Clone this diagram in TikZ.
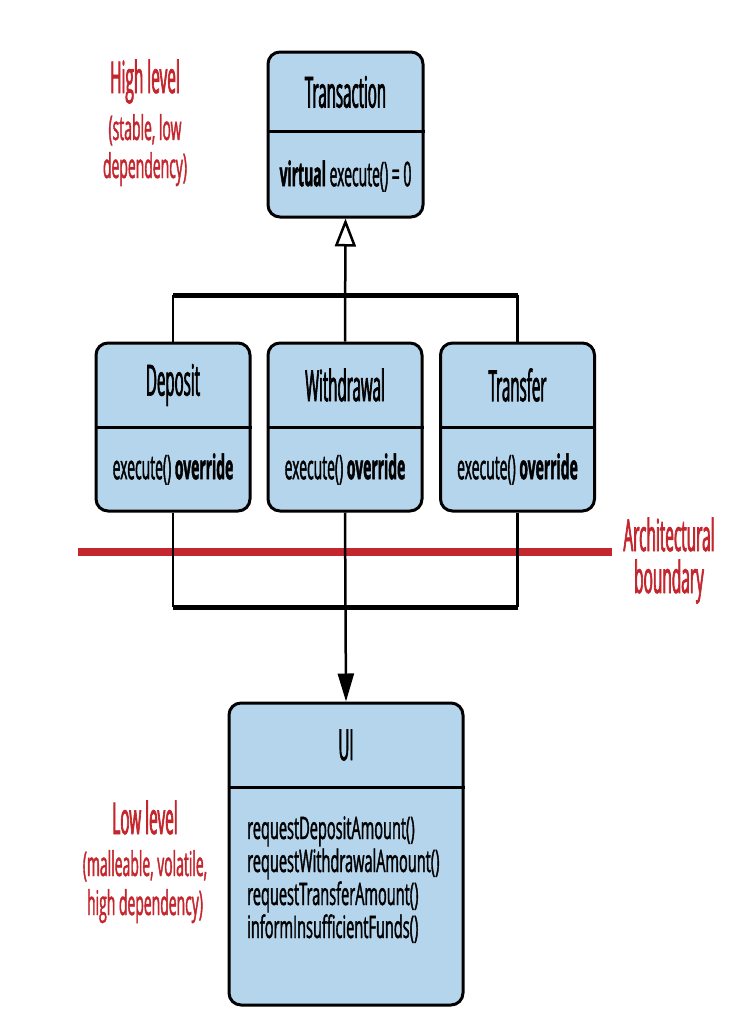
\documentclass[tikz,border=0pt]{standalone}
\usepackage{fontspec}
\setmainfont{Open Sans}
\newfontfamily\tfont[FakeStretch=0.35, FakeBold=1.5]{Open Sans}
\newfontfamily\bfont[FakeStretch=0.41, FakeBold=1.2]{Open Sans}
\newfontfamily\ufont[FakeStretch=0.47, FakeBold=1.2]{Open Sans}
\usetikzlibrary{arrows.meta}
\definecolor{boxblue}{HTML}{B4D5EC}
\definecolor{archred}{HTML}{C4262E}
\begin{document}
\begin{tikzpicture}[x=1pt,y=-1pt,
  cls/.style={draw=black, line width=3pt, fill=boxblue, rounded corners=12pt, inner sep=0pt},
  ttl/.style={font=\tfont\fontsize{43}{46}\selectfont, inner sep=0pt},
  mth/.style={font=\bfont\fontsize{34}{36}\selectfont, inner sep=0pt},
  uim/.style={font=\ufont\fontsize{31}{33}\selectfont, inner sep=0pt, anchor=base west},
  redh/.style={text=archred, font=\tfont\fontsize{44}{46}\selectfont, inner sep=0pt, anchor=base},
  reds/.style={text=archred, font=\bfont\fontsize{34}{36}\selectfont, inner sep=0pt, anchor=base},
  conn/.style={line width=2.5pt},
  barline/.style={line width=5pt},
  divl/.style={line width=3pt},
  boundary/.style={line width=8pt, draw=archred}]
\useasboundingbox (0,0) rectangle (754,1036);

% Transaction
\node[cls, minimum width=155pt, minimum height=165pt] (trans) at (345.5,134.5) {};
\draw[divl] (trans.west |- 0,131) -- (trans.east |- 0,131);
\node[ttl] (transT) at (345.5,92) {Transaction};
\node[mth] (transM) at (345.5,176) {\textbf{virtual} execute() = 0};

% Derived classes
\node[cls, minimum width=154pt, minimum height=168pt] (dep) at (173,427) {};
\node[cls, minimum width=154pt, minimum height=168pt] (wd) at (345,427) {};
\node[cls, minimum width=154pt, minimum height=168pt] (tr) at (517.5,427) {};
\draw[divl] (dep.west |- 0,427) -- (dep.east |- 0,427);
\draw[divl] (wd.west |- 0,427) -- (wd.east |- 0,427);
\draw[divl] (tr.west |- 0,427) -- (tr.east |- 0,427);
\node[ttl] (depT) at (173,385) {Deposit};
\node[ttl] (wdT) at (345,385) {Withdrawal};
\node[ttl] (trT) at (517.5,385) {Transfer};
\node[mth] (depM) at (173,469) {execute() \textbf{override}};
\node[mth] (wdM) at (345,469) {execute() \textbf{override}};
\node[mth] (trM) at (517.5,469) {execute() \textbf{override}};

% UI
\node[cls, minimum width=234pt, minimum height=302pt] (ui) at (346,854) {};
\draw[divl] (ui.west |- 0,787) -- (ui.east |- 0,787);
\node[ttl] (uiT) at (346,745) {UI};
\node[uim] (ui1) at (247,839) {requestDepositAmount()};
\node[uim] (ui2) at (247,872) {requestWithdrawalAmount()};
\node[uim] (ui3) at (247,905) {requestTransferAmount()};
\node[uim] (ui4) at (247,938) {informInsufficientFunds()};

% boundary line
\coordinate (bl) at (78,552);
\coordinate (br) at (612,552);
\draw[boundary] (bl) -- (br);

% inheritance connectors
\coordinate (jt) at (345,295);
\draw[conn] (dep.north) -- (dep.north |- jt);
\draw[conn] (tr.north) -- (tr.north |- jt);
\draw[barline] (dep.north |- jt) -- (tr.north |- jt);
\draw[conn, -{Triangle[open, length=28pt, width=21pt, line width=2.5pt]}] (wd.north) -- (trans.south);

% dependency connectors
\coordinate (jb) at (345,607);
\draw[conn] (dep.south) -- (dep.south |- jb);
\draw[conn] (tr.south) -- (tr.south |- jb);
\draw[barline] (dep.south |- jb) -- (tr.south |- jb);
\draw[conn, -{Triangle[length=28pt, width=16pt]}] (wd.south) -- (ui.north);

% labels
\node[redh] (hl) at (145,93) {High level};
\node[reds] (hl2) at (145,140) {(stable, low};
\node[reds] (hl3) at (145,178) {dependency)};
\node[redh] (ll) at (145,834) {Low level};
\node[reds] (ll2) at (145,876) {(malleable, volatile,};
\node[reds] (ll3) at (145,915) {high dependency)};
\node[redh] (ab) at (669,551) {Architectural};
\node[redh] (ab2) at (669,593) {boundary};
\end{tikzpicture}
\end{document}
